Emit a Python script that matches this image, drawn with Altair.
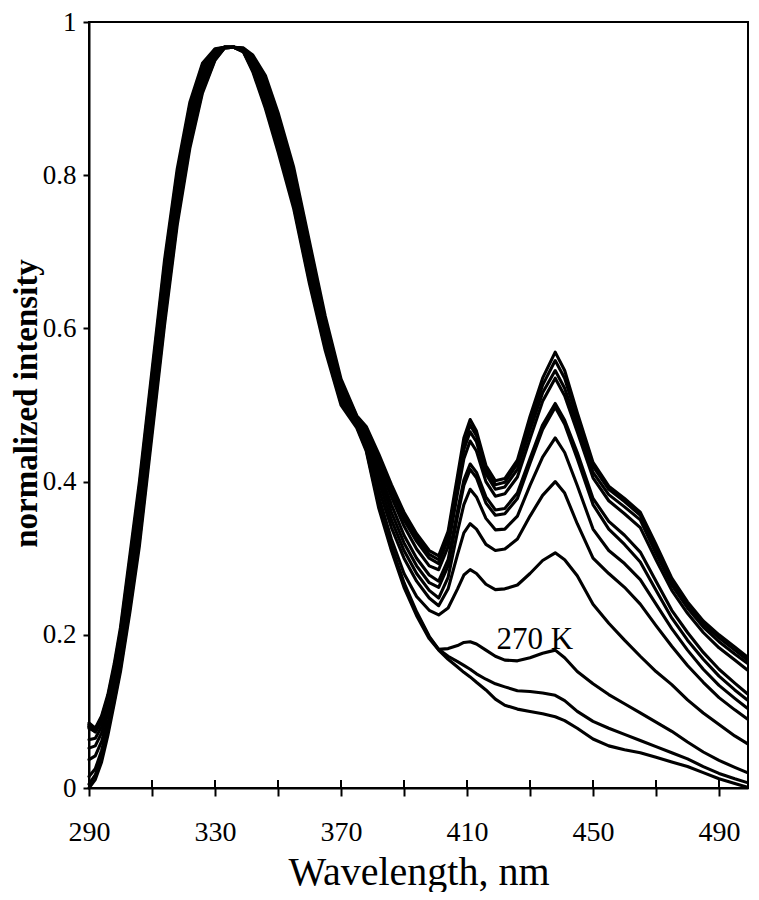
import altair as alt
import pandas as pd

# wavelength grid (nm)
wavelength = [290, 292, 294, 296, 298, 300, 303, 306, 310, 314, 318, 322, 326, 330,
              333, 336, 339, 342, 346, 350, 355, 360, 365, 370, 375, 378, 382, 386,
              390, 394, 398, 401, 404, 407, 409, 411, 413, 416, 419, 422, 426, 430,
              434, 438, 441, 445, 450, 455, 460, 465, 470, 475, 480, 485, 490, 495, 499]

# normalized intensity of each spectrum (top curve first)
curve_01 = [.085, .078, .094, .122, .162, .21, .305, .4, .545, .69, .808, .895, .946, .965,
            .967, .967, .966, .957, .93, .882, .81, .713, .616, .534,
            .486, .472, .436, .396, .36, .332, .31, .303, .335, .408, .457, .481, .466, .421,
            .401, .404, .428, .485, .535, .569, .545, .49, .425, .394, .378, .36, .318, .274,
            .243, .218, .2, .184, .171]
curve_02 = [.083, .077, .092, .119, .158, .205, .298, .393, .538, .683, .802, .89, .943, .964,
            .967, .967, .966, .955, .926, .877, .804, .707, .611, .53,
            .485, .47, .432, .392, .355, .327, .305, .298, .33, .402, .45, .474, .46, .416,
            .396, .399, .423, .476, .526, .558, .535, .482, .42, .39, .374, .356, .312, .27,
            .24, .214, .196, .18, .167]
curve_03 = [.08, .076, .091, .117, .154, .2, .291, .386, .531, .676, .796, .885, .94, .963,
            .967, .967, .965, .953, .922, .872, .799, .702, .607, .527,
            .484, .468, .428, .388, .35, .322, .3, .293, .325, .395, .442, .465, .452, .41,
            .39, .393, .416, .467, .516, .545, .522, .474, .412, .383, .367, .35, .306, .265,
            .235, .21, .191, .175, .163]
curve_04 = [.082, .075, .089, .114, .15, .195, .284, .378, .523, .668, .79, .88, .937, .962,
            .967, .967, .965, .951, .918, .867, .794, .697, .603, .524,
            .483, .465, .422, .38, .342, .312, .29, .285, .315, .385, .43, .453, .44, .4,
            .381, .384, .406, .456, .505, .535, .512, .465, .405, .375, .358, .34, .298, .258,
            .228, .203, .183, .167, .154]
curve_05 = [.078, .074, .088, .112, .146, .19, .277, .37, .515, .66, .783, .874, .933, .961,
            .967, .967, .964, .949, .914, .862, .789, .692, .599, .521,
            .482, .46, .415, .37, .33, .3, .278, .27, .298, .362, .402, .423, .412, .38,
            .363, .365, .385, .43, .474, .502, .48, .438, .378, .348, .33, .308, .27, .232,
            .203, .177, .155, .137, .123]
curve_06 = [.08, .073, .086, .11, .143, .185, .27, .362, .507, .652, .776, .868, .929, .959,
            .967, .967, .964, .947, .91, .857, .784, .687, .595, .518,
            .48, .458, .41, .36, .32, .29, .268, .262, .29, .355, .395, .416, .405, .372,
            .356, .358, .378, .424, .468, .497, .475, .43, .37, .338, .318, .295, .258, .222,
            .193, .168, .146, .128, .115]
curve_07 = [.063, .065, .08, .104, .137, .18, .263, .354, .499, .644, .769, .862, .925, .957,
            .967, .967, .963, .945, .906, .852, .779, .682, .591, .515,
            .48, .455, .4, .35, .31, .28, .258, .248, .275, .335, .37, .39, .38, .352,
            .337, .338, .355, .395, .432, .457, .438, .395, .338, .31, .293, .272, .24, .208,
            .18, .155, .134, .117, .104]
curve_08 = [.052, .055, .072, .098, .131, .174, .256, .346, .491, .636, .762, .856, .921, .956,
            .967, .967, .963, .943, .902, .848, .774, .677, .587, .512,
            .478, .45, .39, .34, .3, .27, .248, .238, .26, .305, .333, .345, .338, .318,
            .31, .312, .325, .355, .382, .40, .385, .345, .3, .28, .262, .24, .212, .185,
            .16, .138, .118, .102, .09]
curve_09 = [.037, .042, .061, .089, .125, .168, .249, .338, .483, .628, .755, .85, .917, .955,
            .967, .967, .962, .941, .898, .843, .769, .672, .583, .509,
            .475, .445, .38, .325, .28, .25, .232, .226, .235, .26, .278, .285, .28, .266,
            .259, .26, .265, .28, .297, .307, .298, .277, .24, .215, .193, .172, .152, .135,
            .115, .098, .083, .068, .058]
curve_270K = [.015, .025, .049, .081, .119, .162, .242, .33, .475, .62, .748, .845, .913, .953,
              .966, .967, .962, .939, .894, .839, .764, .667, .579, .506,
              .473, .444, .373, .316, .268, .23, .198, .181, .182, .186, .19, .191, .188, .18,
              .172, .167, .166, .17, .176, .18, .17, .152, .136, .122, .11, .098, .086, .074,
              .06, .047, .036, .027, .02]
curve_11 = [.005, .017, .041, .075, .114, .157, .236, .323, .468, .612, .741, .84, .91, .951,
            .966, .967, .961, .937, .89, .835, .76, .662, .575, .503,
            .472, .442, .37, .313, .265, .228, .197, .181, .172, .165, .16, .155, .149, .142,
            .136, .132, .127, .126, .124, .121, .114, .1, .087, .078, .07, .062, .054, .046,
            .038, .028, .019, .012, .007]
curve_12 = [.0, .011, .034, .069, .11, .152, .23, .316, .46, .605, .735, .835, .907, .95,
            .966, .967, .961, .935, .887, .831, .756, .658, .571, .5,
            .47, .44, .365, .31, .262, .225, .195, .18, .168, .158, .151, .145, .138, .128,
            .116, .108, .103, .1, .097, .093, .088, .078, .064, .055, .05, .046, .04, .034,
            .028, .02, .012, .006, .001]

x_ticks = [290, 310, 330, 350, 370, 390, 410, 430, 450, 470, 490]
y_ticks = [0, 0.2, 0.4, 0.6, 0.8, 1]
annotation_text = ["270 K"]
annotation_x = [431.5]
annotation_y = [0.193]

curves = {"c01": curve_01, "c02": curve_02, "c03": curve_03, "c04": curve_04,
          "c05": curve_05, "c06": curve_06, "c07": curve_07, "c08": curve_08,
          "c09": curve_09, "c10": curve_270K, "c11": curve_11, "c12": curve_12}

rows = []
for name, vals in curves.items():
    for w, v in zip(wavelength, vals):
        rows.append({"curve": name, "wavelength": w, "intensity": v})
df = pd.DataFrame(rows)

SERIF = "Liberation Serif"
W, H = 659, 766
xscale = alt.Scale(domain=[290, 499.2], nice=False, zero=False)
yscale = alt.Scale(domain=[0, 1], nice=False, zero=True)

xaxis = alt.Axis(values=x_ticks, title="Wavelength, nm", grid=False,
                 labelExpr="datum.value % 40 == 10 ? datum.label : ''",
                 labelFont=SERIF, labelFontSize=28, labelColor="black",
                 labelBaseline="alphabetic", labelPadding=44, labelFlush=False,
                 labelOverlap=False,
                 tickSize=8, tickWidth=2, tickColor="black",
                 domainWidth=2, domainColor="black",
                 titleFont=SERIF, titleFontSize=40, titleFontWeight="normal",
                 titleColor="black", titleY=96, titleBaseline="alphabetic")
yaxis = alt.Axis(values=y_ticks, title="normalized intensity", grid=False,
                 labelExpr="datum.value == 0 ? '0' : datum.value == 1 ? '1' : format(datum.value, '.1f')",
                 labelFont=SERIF, labelFontSize=27, labelColor="black",
                 labelPadding=7, labelOverlap=False, labelFlush=False,
                 tickSize=6, tickWidth=2, tickColor="black",
                 domainWidth=2, domainColor="black",
                 titleFont=SERIF, titleFontSize=33, titleFontWeight="bold",
                 titleColor="black", titleX=-63, titleY=381,
                 titleAlign="center", titleBaseline="middle")

lines = alt.Chart(df).mark_line(color="black", strokeWidth=3.1, strokeJoin="round",
                                strokeCap="round").encode(
    x=alt.X("wavelength:Q", scale=xscale, axis=xaxis),
    y=alt.Y("intensity:Q", scale=yscale, axis=yaxis),
    detail="curve:N",
)

inner_ticks = alt.Chart(pd.DataFrame({"wavelength": x_ticks})).mark_rule(
    color="black", strokeWidth=2).encode(
    x=alt.X("wavelength:Q", scale=xscale),
    y=alt.value(H - 8), y2=alt.value(H),
)

label = alt.Chart(pd.DataFrame({"wavelength": annotation_x, "intensity": annotation_y,
                                "text": annotation_text})).mark_text(
    font=SERIF, fontSize=31, color="black", align="center", baseline="middle").encode(
    x=alt.X("wavelength:Q", scale=xscale),
    y=alt.Y("intensity:Q", scale=yscale),
    text="text:N",
)

chart = alt.layer(lines, inner_ticks, label).properties(
    width=W, height=H,
    autosize=alt.AutoSizeParams(type="none"),
    padding={"left": 81, "top": 14, "right": 3, "bottom": 104},
    background="white",
).configure_view(stroke="black", strokeWidth=2)

chart.save("out.html", embed_options={"renderer": "svg", "actions": False})
